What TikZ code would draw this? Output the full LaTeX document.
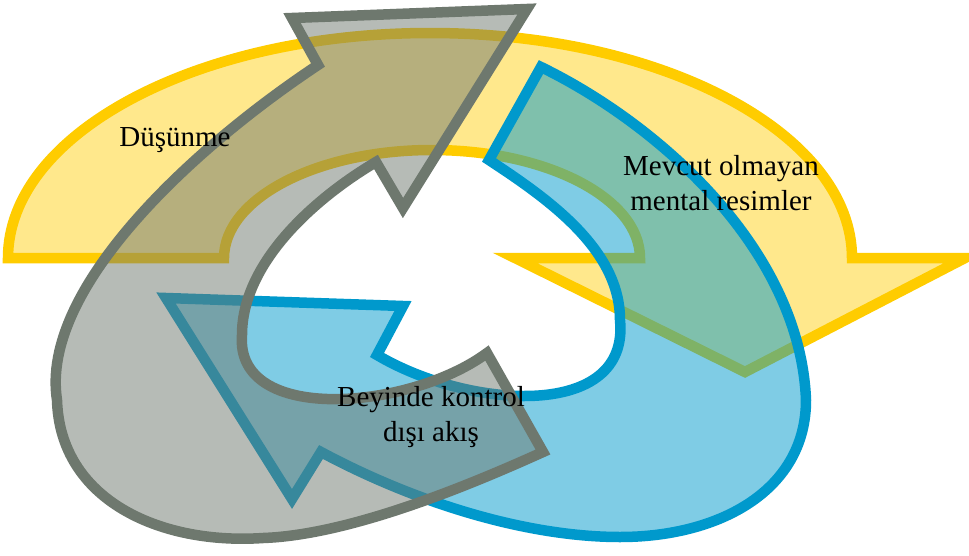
\documentclass[tikz,border=0pt]{standalone}
\usepackage{fontspec}
\setmainfont{Liberation Serif}
\definecolor{cycyellow}{RGB}{255,204,0}
\definecolor{cycgray}  {RGB}{110,120,110}
\definecolor{cycblue}  {RGB}{0,153,204}

\begin{document}
\begin{tikzpicture}[x=0.2mm,y=0.2mm,
	yellowarrow/.style={draw=cycyellow,line width=2.1mm,fill=cycyellow,fill opacity=0.45},
	bluearrow/.style={draw=cycblue,line width=2.1mm,fill=cycblue,fill opacity=0.5},
	grayarrow/.style={draw=cycgray,line width=2.1mm,fill=cycgray,fill opacity=0.5},
	label/.style={align=center,font=\fontsize{16.5}{19.5}\selectfont}]
	\useasboundingbox (0,0) rectangle (969,-556);
	% yellow: top arc
	\draw[yellowarrow] (8,-258) arc[start angle=180,end angle=0,x radius=422,y radius=225]
		-- (965,-258) -- (745,-372) -- (515,-258) -- (640,-258)
		arc[start angle=0,end angle=180,x radius=208,y radius=108] -- cycle;
	% blue: right loop
	\draw[bluearrow] (489,-160) -- (541,-67)
		.. controls (660,-125) and (800,-250) .. (806,-400)
		.. controls (806,-490) and (720,-537) .. (620,-537)
		.. controls (530,-537) and (420,-505) .. (321,-452)
		-- (292,-499) -- (166,-298) -- (403,-306) -- (377,-355)
		.. controls (470,-410) and (630,-420) .. (620,-320)
		.. controls (620,-250) and (550,-200) .. (489,-160) -- cycle;
	% gray: left loop
	\draw[grayarrow] (487,-353) -- (543,-452)
		.. controls (470,-485) and (350,-535) .. (263,-538)
		.. controls (160,-545) and (60,-500) .. (57,-400)
		.. controls (40,-290) and (190,-150) .. (318,-65)
		-- (292,-18) -- (527,-9) -- (403,-208) -- (376,-162)
		.. controls (320,-195) and (242,-260) .. (242,-335)
		.. controls (235,-425) and (410,-410) .. (487,-353) -- cycle;
	\node[label] (dusunme) at (175,-140) {Düşünme};
	\node[label] (mevcut) at (721,-183) {Mevcut olmayan\\mental resimler};
	\node[label] (beyinde) at (431,-417) {Beyinde kontrol\\dışı akış};
\end{tikzpicture}
\end{document}
